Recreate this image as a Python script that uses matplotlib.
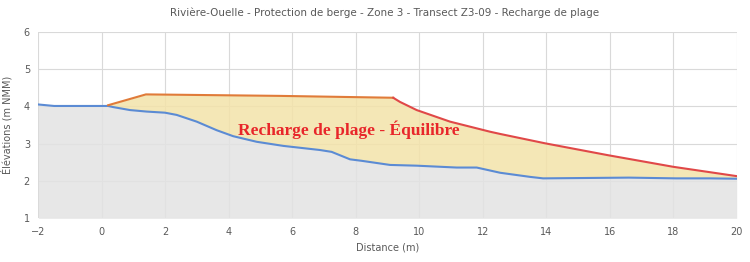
import matplotlib
matplotlib.use("Agg")
import matplotlib.pyplot as plt
import numpy as np

# Existing profile (blue)
terrain_x = [-2, -1.5, 0.2, 0.36, 0.89, 1.41, 1.99, 2.36, 2.99, 3.62, 4.14, 4.88, 5.72, 6.87, 7.24,
             7.82, 8.19, 9.08, 9.92, 11.18, 11.81, 12.55, 13.49, 13.9, 16.6, 18.1, 19.16, 20]
terrain_y = [4.05, 4.01, 4.01, 3.98, 3.90, 3.86, 3.83, 3.77, 3.59, 3.36, 3.20, 3.05, 2.94, 2.83, 2.78,
             2.58, 2.54, 2.43, 2.41, 2.36, 2.36, 2.22, 2.11, 2.07, 2.09, 2.07, 2.07, 2.06]

# Beach recharge - crest (orange) and equilibrium slope (red)
crest_x = [0.2, 1.39, 5.61, 9.18]
crest_y = [4.03, 4.32, 4.28, 4.23]
slope_x = [9.18, 9.39, 9.92, 10.97, 12.23, 12.55, 13.96, 15.95, 18.0, 20.0]
slope_y = [4.23, 4.12, 3.90, 3.59, 3.32, 3.26, 3.01, 2.69, 2.38, 2.13]

title = "Rivière-Ouelle - Protection de berge - Zone 3 - Transect Z3-09 - Recharge de plage"
xlabel = "Distance (m)"
ylabel = "Élévations (m NMM)"
annotation = "Recharge de plage - Équilibre"
xticks = list(range(-2, 21, 2))
yticks = [1, 2, 3, 4, 5, 6]

fig = plt.figure(figsize=(7.5, 2.62), dpi=100)
ax = fig.add_axes([38.3/750, 1 - 218.3/262, (736.7-38.3)/750, (218.3-31.7)/262])

ax.set_xlim(-2, 20)
ax.set_ylim(1, 6)

# fills
top_x = crest_x + slope_x[1:]
top_y = crest_y + slope_y[1:]
grid_x = np.linspace(0.2, 20, 800)
top_i = np.interp(grid_x, top_x, top_y)
bot_i = np.interp(grid_x, terrain_x, terrain_y)
ax.fill_between(grid_x, bot_i, top_i, where=top_i >= bot_i, color="#F3E3A9", alpha=0.85, lw=0, zorder=2)
ax.fill_between(terrain_x, 1, terrain_y, color="#E3E3E3", alpha=0.85, lw=0, zorder=2)

ax.plot(terrain_x, terrain_y, color="#5B8BD4", lw=1.5, zorder=4)
ax.plot(crest_x, crest_y, color="#E07B39", lw=1.5, zorder=4)
ax.plot(slope_x, slope_y, color="#E04848", lw=1.5, zorder=4)

ax.text(7.77, 3.36, annotation, color="#E8262A", fontsize=12.5, fontweight="bold",
        family="Liberation Serif", ha="center", va="center", zorder=5)

ax.set_xticks(xticks)
ax.set_yticks(yticks)
ax.grid(True, color="#D9D9D9", lw=0.8, zorder=1)
ax.set_axisbelow(True)
for s in ax.spines.values():
    s.set_visible(False)
ax.tick_params(length=0, labelsize=7, colors="#595959", pad=6)
ax.set_xlabel(xlabel, fontsize=7, color="#595959", labelpad=4)
ax.set_ylabel(ylabel, fontsize=7, color="#595959", labelpad=8)
fig.suptitle(title, fontsize=7.5, color="#595959", x=385/750, y=1 - 13/262, va="center")

fig.savefig("out.png", dpi=100)
